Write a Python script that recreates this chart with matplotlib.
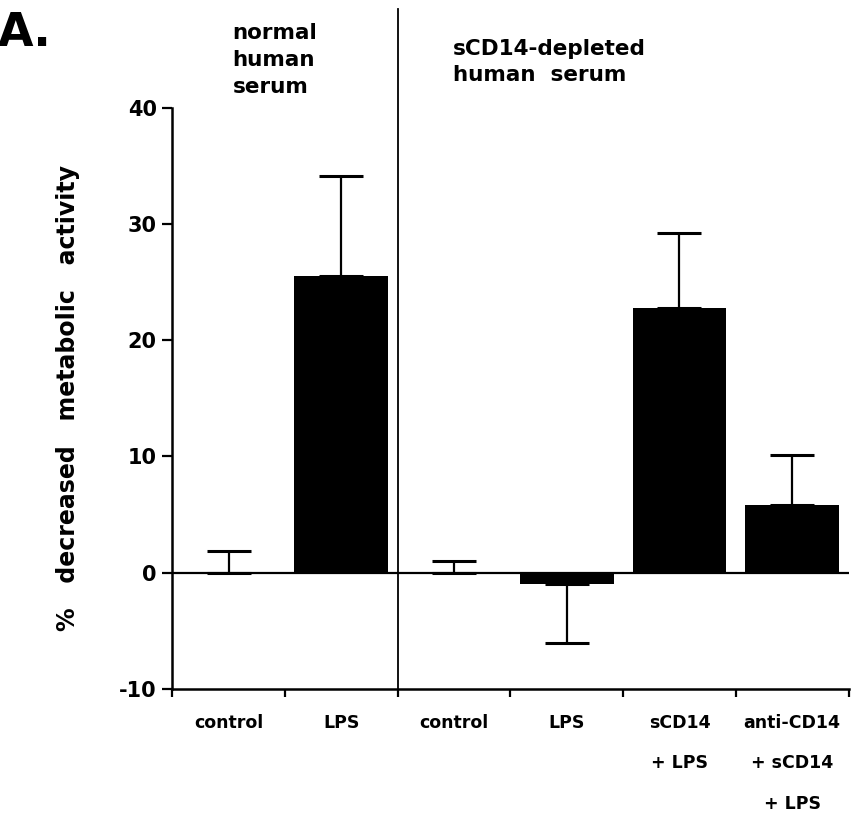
import matplotlib

matplotlib.use("Agg")
import matplotlib.pyplot as plt
import numpy as np

# values
categories = ["control", "LPS", "control", "LPS", "sCD14\n+ LPS", "anti-CD14\n+ sCD14\n+ LPS"]
means = [0.0, 25.5, 0.0, -1.0, 22.8, 5.8]
errors = [1.9, 8.6, 1.0, 5.0, 6.4, 4.3]
y_ticks = [-10, 0, 10, 20, 30, 40]

plt.rcParams["font.family"] = ["DejaVu Sans"]
plt.rcParams["font.weight"] = "bold"

fig = plt.figure(figsize=(8.65, 8.13), dpi=100)
ax = fig.add_axes([0.199, 0.1525, 0.782, 0.715])

x = np.arange(len(categories))
ax.bar(x, means, width=0.83, color="black", zorder=2)

# one-sided error bars (up for positive, down for negative means)
for xi, m, e in zip(x, means, errors):
    lower = e if m < 0 else 0
    upper = 0 if m < 0 else e
    ax.errorbar(xi, m, yerr=[[lower], [upper]], fmt="none", ecolor="black",
                elinewidth=1.6, capsize=16, capthick=2.2, zorder=3)

ax.axhline(0, color="black", lw=1.6, zorder=1)
# divider between the two serum groups
ax.plot([1.5, 1.5], [-10, 48.5], color="black", lw=1.3, clip_on=False, zorder=4)

ax.set_xlim(-0.5, 5.5)
ax.set_ylim(-10, 40)
ax.set_yticks(y_ticks)
ax.set_yticklabels([str(t) for t in y_ticks], fontsize=15, fontweight="bold")
ax.set_xticks(x)
ax.set_xticklabels(categories, fontsize=12.5, fontweight="bold", linespacing=2.6)
ax.set_xticks(np.arange(-0.5, 5.6, 1.0), minor=True)
ax.tick_params(axis="x", which="major", length=0, pad=18)
ax.tick_params(axis="x", which="minor", length=6, width=1.6, direction="out")
ax.tick_params(axis="y", length=7, width=1.6, direction="out", pad=4)

ax.spines["top"].set_visible(False)
ax.spines["right"].set_visible(False)
ax.spines["left"].set_linewidth(1.8)
ax.spines["bottom"].set_linewidth(1.8)

ax.set_ylabel("%   decreased   metabolic   activity", fontsize=17, fontweight="bold", labelpad=28)

fig.text(0.269, 0.972, "normal\nhuman\nserum", fontsize=15.5, fontweight="bold", va="top", ha="left", linespacing=1.45)
fig.text(0.524, 0.952, "sCD14-depleted\nhuman  serum", fontsize=15.5, fontweight="bold", va="top", ha="left", linespacing=1.35)
fig.text(-0.002, 0.986, "A.", fontsize=33, fontweight="bold", va="top", ha="left")

fig.savefig("out.png", dpi=100)
